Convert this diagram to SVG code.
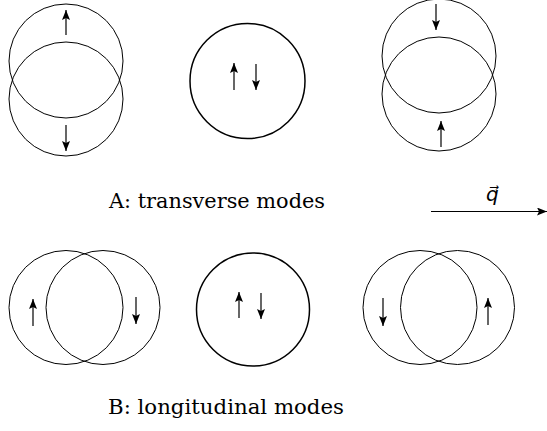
<svg xmlns="http://www.w3.org/2000/svg" width="547" height="431" viewBox="0 0 547 431">
<defs>
<marker id="ah" viewBox="0 0 10 8" refX="10" refY="4" markerWidth="10" markerHeight="8" markerUnits="userSpaceOnUse" orient="auto">
<path d="M0,0 L10,4 L0,8 L2,4 Z" fill="#000"/>
</marker>
</defs>
<style>
.c{fill:none;stroke:#000;stroke-width:1}
.cb{fill:none;stroke:#000;stroke-width:1.5}
.a{stroke:#000;stroke-width:1.2;fill:none;marker-end:url(#ah)}
.t{font-family:"DejaVu Serif","Liberation Serif",serif;font-size:20px;fill:#000}
.q{font-family:"DejaVu Sans",sans-serif;font-size:20px;font-style:italic;fill:#000}
</style>
<rect width="547" height="431" fill="#fff"/>
<g id="transverse-left">
<circle class="c" cx="66" cy="61" r="57"/>
<circle class="c" cx="66" cy="99" r="57"/>
</g>
<g id="transverse-middle">
<circle class="cb" cx="247.5" cy="81" r="57.5"/>
</g>
<g id="transverse-right">
<circle class="c" cx="439" cy="56" r="57"/>
<circle class="c" cx="439" cy="94" r="57"/>
</g>
<g id="longitudinal-left">
<circle class="c" cx="66" cy="307.5" r="57"/>
<circle class="c" cx="103" cy="307.5" r="57"/>
</g>
<g id="longitudinal-middle">
<circle class="cb" cx="253" cy="309.5" r="56.5"/>
</g>
<g id="longitudinal-right">
<circle class="c" cx="420" cy="307.5" r="57"/>
<circle class="c" cx="457.5" cy="307.5" r="57"/>
</g>
<g id="connectors">
<line class="a" x1="66" y1="35" x2="66" y2="10"/>
<line class="a" x1="66" y1="125" x2="66" y2="151"/>
<line class="a" x1="234" y1="90" x2="234" y2="63"/>
<line class="a" x1="256" y1="64" x2="256" y2="90"/>
<line class="a" x1="436" y1="4" x2="436" y2="30"/>
<line class="a" x1="441" y1="147" x2="441" y2="121"/>
<line class="a" x1="33" y1="326" x2="33" y2="299"/>
<line class="a" x1="136" y1="297" x2="136" y2="324"/>
<line class="a" x1="239" y1="318" x2="239" y2="292"/>
<line class="a" x1="261" y1="293" x2="261" y2="319"/>
<line class="a" x1="383" y1="298" x2="383" y2="326"/>
<line class="a" x1="488" y1="325" x2="488" y2="298"/>
<line class="a" x1="431" y1="211.5" x2="547" y2="211.5"/>
</g>
<g id="labels">
<text class="t" x="109" y="208" textLength="216" lengthAdjust="spacingAndGlyphs">A: transverse modes</text>
<text class="t" x="108" y="414" textLength="236" lengthAdjust="spacingAndGlyphs">B: longitudinal modes</text>
<text class="q" x="486" y="201">q⃗</text>
</g>
</svg>
